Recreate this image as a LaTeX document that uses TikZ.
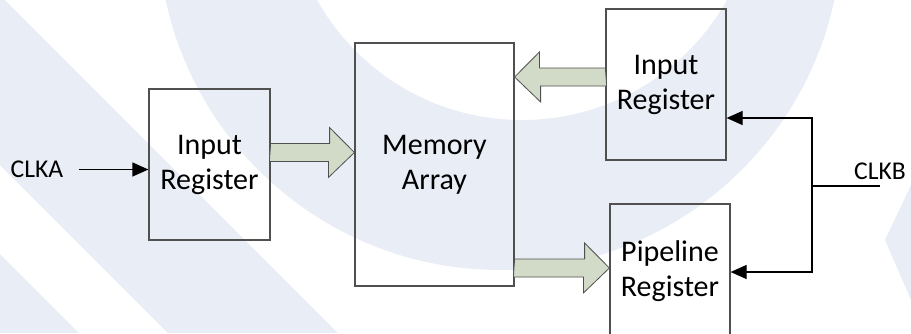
\documentclass[tikz,border=0pt]{standalone}
\usepackage{fontspec}
\setmainfont{Carlito}
\usetikzlibrary{arrows.meta,calc,positioning}

\definecolor{watermark}{RGB}{233,238,246}
\definecolor{busfill}{RGB}{210,218,200}
\definecolor{boxline}{RGB}{80,80,80}

\tikzset{
	register/.style={draw=boxline, line width=0.6pt, align=center, inner sep=0pt, font=\fontsize{15}{17.5}\selectfont},
	bus/.style={draw=boxline, fill=busfill, line width=0.4pt, line join=miter},
	clock/.style={line width=0.6pt, -{Triangle[length=8pt,width=7pt]}},
	clklabel/.style={font=\fontsize{12.8}{14}\selectfont, inner sep=0pt}
}

\begin{document}
\begin{tikzpicture}[x=0.5pt, y=-0.5pt]
	\useasboundingbox (0,0) rectangle (911,333);
	\clip (0,0) rectangle (911,333);

	% Background stripes
	\fill [watermark] (0,0) -- (5,0) -- (338,333) -- (168,333) -- (0,165) -- cycle;
	\fill [watermark] (0,254) -- (79,333) -- (0,333) -- cycle;
	\fill [watermark, even odd rule] (500,-72) circle (342) (522,-115) circle (235);
	\fill [watermark] (911,185) -- (885,240) -- (911,300) -- cycle;

	% Place nodes
	\node [register, minimum width=60.5pt, minimum height=75.5pt] (inA) at (209.5,164.5) {Input\\Register};
	\node [register, minimum width=79.5pt, minimum height=121.5pt] (mem) at (434.5,164.5) {Memory\\Array};
	\node [register, minimum width=60pt, minimum height=75.5pt] (inB) at (666,84.5) {Input\\Register};
	\node [register, minimum width=60pt, minimum height=67pt] (pipe) at (670,271) {Pipeline\\Register};
	\node [clklabel] (clka) at (37,169.5) {CLKA};
	\node [clklabel] (clkb) at (880,171) {CLKB};
	\coordinate (clkbJoin) at (812,186);
	\coordinate (clkbEnd) at (880,186);

	% Data buses (shaft 18, head 50 wide and 26 long)
	\draw [bus] (inA.east |- 0,152.5) ++(0,-9) -- ++(59,0) -- ++(0,-16) -- (mem.west |- 0,152.5)
		-- ++(-26,25) -- ++(0,-16) -- ++(-59,0) -- cycle;
	\draw [bus] (inB.west |- 0,77) ++(0,-9) -- ++(-66,0) -- ++(0,-16) -- (mem.east |- 0,77)
		-- ++(26,25) -- ++(0,-16) -- ++(66,0) -- cycle;
	\draw [bus] (mem.east |- 0,268) ++(0,-9) -- ++(70,0) -- ++(0,-16) -- (pipe.west |- 0,268)
		-- ++(-26,25) -- ++(0,-16) -- ++(-70,0) -- cycle;

	% Draw clocks
	\draw [clock, shorten <=7.5pt] (clka.east) -- (clka.east -| inA.west);
	\draw [line width=0.6pt] (clkbEnd) -- (clkbJoin);
	\draw [clock] (clkbJoin) |- (inB.east |- 0,118);
	\draw [clock] (clkbJoin) |- (pipe.east |- 0,272);
\end{tikzpicture}
\end{document}
